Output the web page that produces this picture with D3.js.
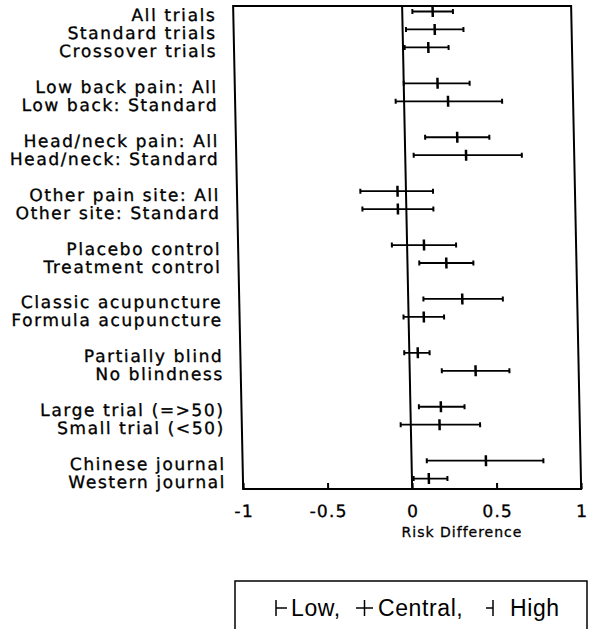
<!DOCTYPE html>
<html>
<head>
<meta charset="utf-8">
<script src="https://cdn.jsdelivr.net/npm/d3@7"></script>
<style>
  html, body { margin: 0; padding: 0; background: #fff; }
  svg { display: block; }
</style>
</head>
<body>
<svg id="chart" width="590" height="629"></svg>
<script>
// ---- data ----
const labels = [
  "All trials", "Standard trials", "Crossover trials",
  "Low back pain: All", "Low back: Standard",
  "Head/neck pain: All", "Head/neck: Standard",
  "Other pain site: All", "Other site: Standard",
  "Placebo control", "Treatment control",
  "Classic acupuncture", "Formula acupuncture",
  "Partially blind", "No blindness",
  "Large trial (=>50)", "Small trial (<50)",
  "Chinese journal", "Western journal"
];
const groups  = [0,0,0, 1,1, 2,2, 3,3, 4,4, 5,5, 6,6, 7,7, 8,8];
const low     = [0.06, 0.02, 0.01, 0.00, -0.05, 0.12, 0.05, -0.27, -0.26, -0.09, 0.07, 0.09, -0.03, -0.03, 0.19, 0.05, -0.06, 0.09, 0.01];
const central = [0.18, 0.19, 0.15, 0.20, 0.26, 0.31, 0.36, -0.05, -0.05, 0.10, 0.23, 0.32, 0.09, 0.05, 0.39, 0.18, 0.17, 0.44, 0.10];
const high    = [0.30, 0.36, 0.27, 0.39, 0.58, 0.50, 0.69, 0.16, 0.16, 0.29, 0.39, 0.56, 0.21, 0.12, 0.59, 0.32, 0.41, 0.78, 0.21];
const tickValues = [-1, -0.5, 0, 0.5, 1];
const tickLabels = ["-1", "-0.5", "0", "0.5", "1"];
const xTitle = "Risk Difference";
const legendLabels = ["Low,", "Central,", "High"];

// ---- layout ----
const svg = d3.select("#chart");
const plotTop = 6, plotBottom = 489;
const x = d3.scaleLinear().domain([-1, 1]).range([233, 571]);
const slots = labels.map((d, i) => i + groups[i]);
const y = d3.scaleLinear().domain([0, d3.max(slots)]).range([11.5, 478.6]);
const labelFont = "'DejaVu Sans', sans-serif";

// the scanned figure leans slightly; reproduce with a small skew
const g = svg.append("g").attr("transform", "skewX(1.19)");

// frame
g.append("rect")
  .attr("x", x(-1)).attr("y", plotTop)
  .attr("width", x(1) - x(-1)).attr("height", plotBottom - plotTop)
  .attr("fill", "none").attr("stroke", "#000").attr("stroke-width", 2);

// zero line
g.append("line")
  .attr("x1", x(0)).attr("x2", x(0))
  .attr("y1", plotTop).attr("y2", plotBottom)
  .attr("stroke", "#000").attr("stroke-width", 2);

// axis
const axis = d3.axisBottom(x)
  .tickValues(tickValues)
  .tickFormat((d, i) => tickLabels[i])
  .tickSizeInner(-6).tickSizeOuter(0).tickPadding(16);
const ax = g.append("g").attr("transform", `translate(0,${plotBottom})`).call(axis);
ax.select(".domain").remove();
ax.selectAll(".tick line").attr("stroke", "#000").attr("stroke-width", 2);
ax.selectAll(".tick text")
  .attr("fill", "#000")
  .attr("stroke", "#000").attr("stroke-width", 0.35)
  .style("font-family", labelFont)
  .style("font-size", "17px")
  .style("letter-spacing", "1.2px");

// row labels
g.append("g").selectAll("text")
  .data(labels)
  .join("text")
  .attr("x", 216)
  .attr("y", (d, i) => y(slots[i]) + 9.5)
  .attr("text-anchor", "end")
  .style("font-family", labelFont)
  .style("font-size", "17px")
  .style("letter-spacing", "1.6px")
  .attr("fill", "#000")
  .attr("stroke", "#000").attr("stroke-width", 0.35)
  .text(d => d);

// error bars
const rows = labels.map((d, i) => ({ i, yy: y(slots[i]), lo: low[i], c: central[i], hi: high[i] }));
const bars = g.append("g").selectAll("g").data(rows).join("g");
bars.append("line")
  .attr("x1", d => x(d.lo)).attr("x2", d => x(d.hi))
  .attr("y1", d => d.yy).attr("y2", d => d.yy)
  .attr("stroke", "#000").attr("stroke-width", 1.8);
bars.append("line")
  .attr("x1", d => x(d.lo)).attr("x2", d => x(d.lo))
  .attr("y1", d => d.yy - 2.5).attr("y2", d => d.yy + 2.5)
  .attr("stroke", "#000").attr("stroke-width", 2);
bars.append("line")
  .attr("x1", d => x(d.hi)).attr("x2", d => x(d.hi))
  .attr("y1", d => d.yy - 2.5).attr("y2", d => d.yy + 2.5)
  .attr("stroke", "#000").attr("stroke-width", 2);
bars.append("line")
  .attr("x1", d => x(d.c)).attr("x2", d => x(d.c))
  .attr("y1", d => d.yy - 5.5).attr("y2", d => d.yy + 5.5)
  .attr("stroke", "#000").attr("stroke-width", 2.5);

// axis title
svg.append("text")
  .attr("x", 462).attr("y", 537)
  .attr("text-anchor", "middle")
  .style("font-family", labelFont)
  .style("font-size", "14px")
  .style("letter-spacing", "1px")
  .attr("fill", "#000")
  .attr("stroke", "#000").attr("stroke-width", 0.3)
  .text(xTitle);

// legend
const lg = svg.append("g");
lg.append("rect")
  .attr("x", 235).attr("y", 581).attr("width", 352).attr("height", 70)
  .attr("fill", "none").attr("stroke", "#000").attr("stroke-width", 1.5);
const ly = 608;
const sw = 1.5;
// low symbol
lg.append("line").attr("x1", 276).attr("x2", 276).attr("y1", ly - 8).attr("y2", ly + 8).attr("stroke", "#000").attr("stroke-width", sw);
lg.append("line").attr("x1", 276).attr("x2", 287).attr("y1", ly).attr("y2", ly).attr("stroke", "#000").attr("stroke-width", sw);
// central symbol
lg.append("line").attr("x1", 356).attr("x2", 373).attr("y1", ly).attr("y2", ly).attr("stroke", "#000").attr("stroke-width", sw);
lg.append("line").attr("x1", 364.5).attr("x2", 364.5).attr("y1", ly - 8).attr("y2", ly + 8).attr("stroke", "#000").attr("stroke-width", sw);
// high symbol
lg.append("line").attr("x1", 486).attr("x2", 493).attr("y1", ly).attr("y2", ly).attr("stroke", "#000").attr("stroke-width", sw);
lg.append("line").attr("x1", 493).attr("x2", 493).attr("y1", ly - 8).attr("y2", ly + 8).attr("stroke", "#000").attr("stroke-width", sw);
const legendX = [291, 378, 510];
lg.selectAll("text.lt").data(legendLabels).join("text")
  .attr("class", "lt")
  .attr("x", (d, i) => legendX[i]).attr("y", 616)
  .style("font-family", "'Liberation Sans', Arial, sans-serif")
  .style("font-size", "23px")
  .style("letter-spacing", "0.6px")
  .attr("fill", "#000")
  .text(d => d);
</script>
</body>
</html>
